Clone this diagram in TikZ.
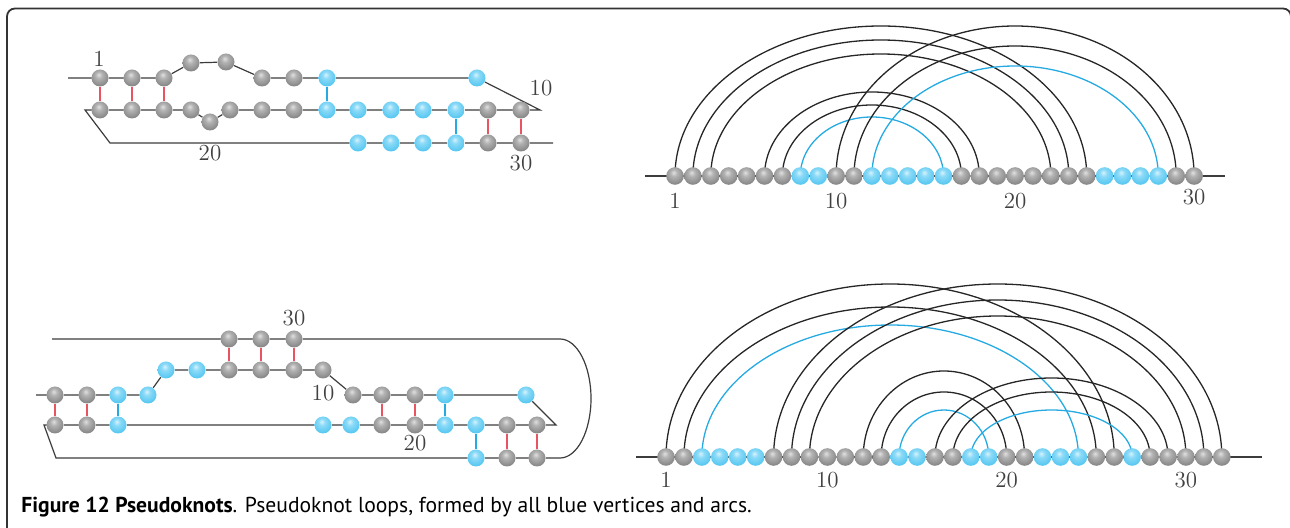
\documentclass[tikz,border=0pt]{standalone}
\usepackage{fontspec}
\setsansfont{PT Sans}
\usetikzlibrary{backgrounds,calc}

\definecolor{beadblue}{RGB}{64,192,238}
\definecolor{pairred}{RGB}{232,84,96}
\definecolor{pairblue}{RGB}{38,170,226}
\definecolor{chaingray}{RGB}{60,60,60}
\definecolor{bhi}{RGB}{214,243,253}
\definecolor{bmid}{RGB}{140,218,247}
\definecolor{bbody}{RGB}{78,196,240}
\definecolor{brim}{RGB}{38,164,218}
\pgfdeclareradialshading{gsoft}{\pgfqpoint{-4bp}{10bp}}{color(0bp)=(black!12); color(10bp)=(black!30); color(32bp)=(black!50); color(52bp)=(black!66); color(70bp)=(black!70)}
\pgfdeclareradialshading{bsoft}{\pgfqpoint{-4bp}{10bp}}{color(0bp)=(bhi); color(10bp)=(bmid); color(32bp)=(bbody); color(52bp)=(brim); color(70bp)=(brim)}

\begin{document}
\begin{tikzpicture}[x=0.5pt,y=-0.5pt]
	\tikzstyle{gbead}=[circle,inner sep=0pt,minimum size=8.5pt,shading=gsoft]
	\tikzstyle{bbead}=[circle,inner sep=0pt,minimum size=8.5pt,shading=bsoft]
	\tikzstyle{chain}=[draw=chaingray,line width=0.6pt]
	\tikzstyle{rpair}=[draw=pairred,line width=0.75pt]
	\tikzstyle{bpair}=[draw=pairblue,line width=0.75pt]
	\tikzstyle{karc}=[draw=black!85,line width=0.65pt]
	\tikzstyle{barc}=[draw=pairblue,line width=0.65pt]
	\tikzstyle{num}=[inner sep=0pt,font=\fontsize{11.5}{11.5}\selectfont,text=black!75]

	\useasboundingbox (0,0) rectangle (1290,528);
	\draw[line width=0.9pt,black!80,rounded corners=4pt] (7,540) -- (7,8.5) -- (1291,8.5) -- (1291,540);

	% top left: the folded chain
	\node[gbead](a1) at (100,78){};
	\node[gbead](a2) at (132,78){};
	\node[gbead](a3) at (164,78){};
	\node[gbead](a4) at (191,63){};
	\node[gbead](a5) at (226,62){};
	\node[gbead](a6) at (262,78){};
	\node[gbead](a7) at (294,78){};
	\node[bbead](a8) at (327,78){};
	\node[bbead](a9) at (477,78){};
	\node[gbead](a10) at (521,110){};
	\node[gbead](a11) at (488,110){};
	\node[bbead](a12) at (456,110){};
	\node[bbead](a13) at (423,110){};
	\node[bbead](a14) at (391,110){};
	\node[bbead](a15) at (358,110){};
	\node[bbead](a16) at (327,110){};
	\node[gbead](a17) at (294,110){};
	\node[gbead](a18) at (262,110){};
	\node[gbead](a19) at (230,110){};
	\node[gbead](a20) at (210,122){};
	\node[gbead](a21) at (191,110){};
	\node[gbead](a22) at (164,110){};
	\node[gbead](a23) at (132,110){};
	\node[gbead](a24) at (100,110){};
	\node[bbead](a25) at (358,143){};
	\node[bbead](a26) at (391,143){};
	\node[bbead](a27) at (423,143){};
	\node[bbead](a28) at (456,143){};
	\node[gbead](a29) at (488,143){};
	\node[gbead](a30) at (521,143){};
	\coordinate (aL) at (68,78);
	\coordinate (aR) at (540,110);
	\coordinate (aM) at (85,110);
	\coordinate (aN) at (110,143);
	\coordinate (aE) at (553,143);

	\node[num](la1) at (99,59){1};
	\node[num](la10) at (541,88){10};
	\node[num](la20) at (210,153){20};
	\node[num](la30) at (521,163){30};

	% bottom left: the folded chain
	\node[gbead](c1) at (55,395){};
	\node[gbead](c2) at (87,395){};
	\node[bbead](c3) at (118,395){};
	\node[bbead](c4) at (148,395){};
	\node[bbead](c5) at (166,370){};
	\node[bbead](c6) at (197,370){};
	\node[gbead](c7) at (229,370){};
	\node[gbead](c8) at (261,370){};
	\node[gbead](c9) at (294,370){};
	\node[gbead](c10) at (323,370){};
	\node[gbead](c11) at (353,395){};
	\node[gbead](c12) at (382,395){};
	\node[gbead](c13) at (415,395){};
	\node[bbead](c14) at (445,395){};
	\node[bbead](c15) at (526,395){};
	\node[gbead](c16) at (537,425){};
	\node[gbead](c17) at (507,425){};
	\node[bbead](c18) at (476,425){};
	\node[bbead](c19) at (445,425){};
	\node[gbead](c20) at (415,425){};
	\node[gbead](c21) at (382,425){};
	\node[bbead](c22) at (351,425){};
	\node[bbead](c23) at (323,425){};
	\node[bbead](c24) at (118,425){};
	\node[gbead](c25) at (87,425){};
	\node[gbead](c26) at (55,425){};
	\node[bbead](c27) at (476,458){};
	\node[gbead](c28) at (507,458){};
	\node[gbead](c29) at (537,458){};
	\node[gbead](c30) at (294,339){};
	\node[gbead](c31) at (261,339){};
	\node[gbead](c32) at (229,339){};
	\coordinate (cL) at (36,395);
	\coordinate (cR) at (556,425);
	\coordinate (cM) at (44,425);
	\coordinate (cN) at (56,458);
	\coordinate (cE) at (560,458);
	\coordinate (cT) at (52,339);

	\node[num](lc10) at (323,393){10};
	\node[num](lc20) at (415,443){20};
	\node[num](lc30) at (294,318){30};

	% right: arc diagrams
	\foreach \s [count=\i] in {g,g,g,g,g,g,g,b,b,g,g,b,b,b,b,b,g,g,g,g,g,g,g,g,b,b,b,b,g,g}
		\node[\s bead,minimum size=8.8pt](b\i) at ({675+17.9*(\i-1)},176){};
	\foreach \s [count=\i] in {g,g,b,b,b,b,g,g,g,g,g,g,g,b,b,g,g,b,b,g,g,b,b,b,g,g,b,g,g,g,g,g}
		\node[\s bead,minimum size=8.8pt](d\i) at ({666+17.93*(\i-1)},457){};
	\coordinate (bL) at (645,176);
	\coordinate (bR) at (1225,176);
	\coordinate (dL) at (636,457);
	\coordinate (dR) at (1262,457);

	\node[num,yshift=-12.5pt](lb1) at (b1){1};
	\node[num,yshift=-12.5pt](lb10) at (b10){10};
	\node[num,yshift=-12.5pt](lb20) at (b20){20};
	\node[num,yshift=-10.5pt](lb30) at (b30){30};
	\node[num,yshift=-11.5pt](ld1) at (d1){1};
	\node[num,yshift=-11.5pt](ld10) at (d10){10};
	\node[num,yshift=-11.5pt](ld20) at (d20){20};
	\node[num,yshift=-11.5pt](ld30) at (d30){30};

	\node[anchor=base west,inner sep=0pt,font=\sffamily\fontsize{10.8}{12}\selectfont](cap) at (21,513)
		{\textbf{Figure 12 Pseudoknots}. Pseudoknot loops, formed by all blue vertices and arcs.};

	\begin{scope}[on background layer]
		\draw[chain] (aL) -- (a1) -- (a2) -- (a3) -- (a4) -- (a5) -- (a6) -- (a7) -- (a8) -- (a9) -- (aR)
			-- (a10) -- (a11) -- (a12) -- (a13) -- (a14) -- (a15) -- (a16) -- (a17) -- (a18) -- (a19) -- (a20)
			-- (a21) -- (a22) -- (a23) -- (a24) -- (aM) -- (aN) -- (a25) -- (a26) -- (a27) -- (a28) -- (a29) -- (a30) -- (aE);
		\draw[rpair] (a1) -- (a24);
		\draw[rpair] (a2) -- (a23);
		\draw[rpair] (a3) -- (a22);
		\draw[bpair] (a8) -- (a16);
		\draw[bpair] (a12) -- (a28);
		\draw[rpair] (a11) -- (a29);
		\draw[rpair] (a10) -- (a30);

		\draw[chain] (cL) -- (c1) -- (c2) -- (c3) -- (c4) -- (c5) -- (c6) -- (c7) -- (c8) -- (c9) -- (c10)
			-- (c11) -- (c12) -- (c13) -- (c14) -- (c15) -- (cR) -- (c16) -- (c17) -- (c18) -- (c19) -- (c20)
			-- (c21) -- (c22) -- (c23) -- (c24) -- (c25) -- (c26) -- (cM) -- (cN) -- (c27) -- (c28) -- (c29)
			-- (cE) arc[start angle=-90,end angle=90,x radius=15.5pt,y radius=29.75pt] -- (c30) -- (c31) -- (c32) -- (cT);
		\draw[rpair] (c1) -- (c26);
		\draw[rpair] (c2) -- (c25);
		\draw[bpair] (c3) -- (c24);
		\draw[rpair] (c7) -- (c32);
		\draw[rpair] (c8) -- (c31);
		\draw[rpair] (c9) -- (c30);
		\draw[rpair] (c12) -- (c21);
		\draw[rpair] (c13) -- (c20);
		\draw[bpair] (c14) -- (c19);
		\draw[rpair] (c16) -- (c29);
		\draw[rpair] (c17) -- (c28);
		\draw[bpair] (c18) -- (c27);

		\draw[chain] (bL) -- (bR);
		\draw[chain] (dL) -- (dR);
		\foreach \u/\v/\h/\c in {1/24/75/k,2/23/68/k,3/22/61/k,6/18/42/k,7/17/35.5/k,8/16/29.5/b,10/30/75/k,11/29/65/k,12/28/55/b}
			\draw[\c arc] let \p1=(b\u), \p2=(b\v) in (\p1) arc[start angle=180,end angle=0,x radius={(\x2-\x1)/2},y radius=\h pt];
		\foreach \u/\v/\h/\c in {1/26/86.5/k,2/25/75/k,3/24/66/b,7/32/86.5/k,8/31/78.5/k,9/30/70.5/k,12/21/43/k,13/20/32.5/k,14/19/23.5/b,16/29/39.5/k,17/28/32.5/k,18/27/23.5/b}
			\draw[\c arc] let \p1=(d\u), \p2=(d\v) in (\p1) arc[start angle=180,end angle=0,x radius={(\x2-\x1)/2},y radius=\h pt];
	\end{scope}
\end{tikzpicture}
\end{document}
